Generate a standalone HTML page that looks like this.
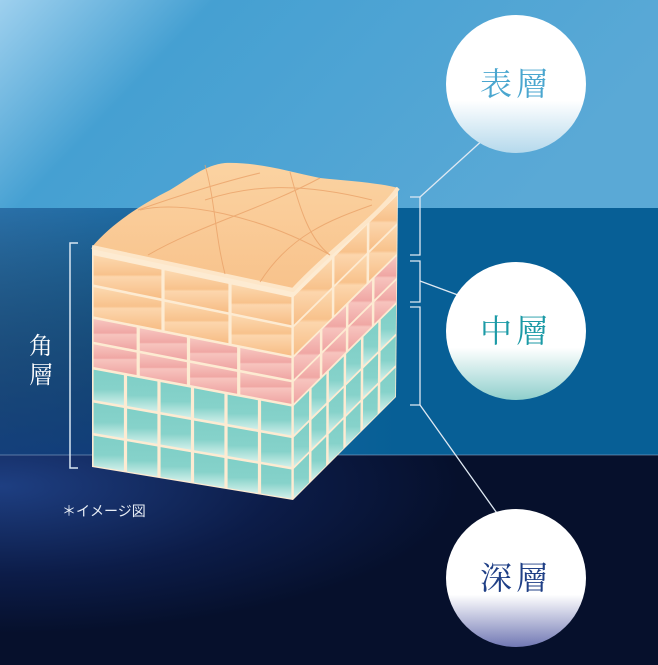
<!DOCTYPE html>
<html><head><meta charset="utf-8"><style>
html,body{margin:0;padding:0;width:658px;height:665px;overflow:hidden;background:#0b1a3e}
svg{display:block}
.t{font-family:"Liberation Serif","Noto Serif CJK SC",serif}
</style></head><body>
<svg id="s" width="658" height="665" viewBox="0 0 658 665" xmlns="http://www.w3.org/2000/svg">
<defs>
<linearGradient id="bg1" x1="0" y1="0" x2="1" y2="0.3"><stop offset="0" stop-color="#9ed0ee"/><stop offset="0.3" stop-color="#45a0d2"/><stop offset="1" stop-color="#5aa9d6"/></linearGradient>
<linearGradient id="bg2" x1="0" y1="0" x2="0.6" y2="0"><stop offset="0" stop-color="#2a70a8"/><stop offset="1" stop-color="#075f96"/></linearGradient>
<linearGradient id="bg2v" x1="0" y1="0" x2="0" y2="1"><stop offset="0" stop-color="#000" stop-opacity="0"/><stop offset="1" stop-color="#0a2a68" stop-opacity="0.7"/></linearGradient>
<radialGradient id="bg3" cx="0" cy="0.15" r="0.7"><stop offset="0" stop-color="#1e3f82"/><stop offset="0.6" stop-color="#0c1c48"/><stop offset="1" stop-color="#06102c"/></radialGradient>
<linearGradient id="c1" x1="0" y1="0" x2="0" y2="1"><stop offset="0.62" stop-color="#fff"/><stop offset="1" stop-color="#b5d9ec"/></linearGradient>
<linearGradient id="c2" x1="0" y1="0" x2="0" y2="1"><stop offset="0.62" stop-color="#fff"/><stop offset="1" stop-color="#8fcfcc"/></linearGradient>
<linearGradient id="c3" x1="0" y1="0" x2="0" y2="1"><stop offset="0.62" stop-color="#fff"/><stop offset="1" stop-color="#7178b4"/></linearGradient>
<linearGradient id="go" x1="0" y1="0" x2="0" y2="1"><stop offset="0" stop-color="#fcd9b0"/><stop offset="0.45" stop-color="#f8c28c"/><stop offset="0.5" stop-color="#fcd6ad"/><stop offset="1" stop-color="#f7bd85"/></linearGradient>
<linearGradient id="gp" x1="0" y1="0" x2="0" y2="1"><stop offset="0" stop-color="#f7c6c0"/><stop offset="0.45" stop-color="#f0a7a4"/><stop offset="0.5" stop-color="#f7c4be"/><stop offset="1" stop-color="#efa4a2"/></linearGradient>
<linearGradient id="gt" x1="0" y1="0" x2="0" y2="1"><stop offset="0" stop-color="#7fcfc7"/><stop offset="0.55" stop-color="#86d2ca"/><stop offset="1" stop-color="#d2f0ea"/></linearGradient>
<linearGradient id="gtop" x1="0" y1="0" x2="0" y2="1"><stop offset="0" stop-color="#fbd3a2"/><stop offset="1" stop-color="#f8c28b"/></linearGradient>
</defs>
<rect x="0" y="0" width="658" height="208" fill="url(#bg1)"/>
<rect x="0" y="208" width="658" height="247" fill="url(#bg2)"/>
<rect x="0" y="208" width="300" height="247" fill="url(#bg2v)"/>
<rect x="0" y="455" width="658" height="210" fill="url(#bg3)"/>
<line x1="0" y1="455" x2="658" y2="455" stroke="#8aa6c8" stroke-width="1" opacity="0.6"/>

<g id="cube"></g>

<path d="M78,243 H70 V468 H78" fill="none" stroke="#d8e6f2" stroke-width="1.5"/>
<text class="t" x="41" y="354" font-size="24" fill="#fff" text-anchor="middle">角</text>
<text class="t" x="41" y="383" font-size="24" fill="#fff" text-anchor="middle">層</text>
<text x="62" y="516" font-size="14" fill="#e8eef6" style='font-family:"Liberation Sans","Noto Sans CJK JP",sans-serif'>＊イメージ図</text>

<g stroke="#dfe9f3" stroke-width="1.3" fill="none">
<path d="M410,197 H420 V255 H410"/>
<path d="M410,261 H420 V302 H410"/>
<path d="M410,307 H420 V405 H410"/>
<line x1="420" y1="197" x2="485" y2="138"/>
<line x1="420" y1="281" x2="466" y2="298"/>
<line x1="420" y1="405" x2="499" y2="516"/>
</g>
<ellipse cx="516" cy="84" rx="70" ry="69" fill="url(#c1)"/>
<ellipse cx="516" cy="331" rx="70" ry="69" fill="url(#c2)"/>
<ellipse cx="516" cy="578" rx="70" ry="69" fill="url(#c3)"/>
<text class="t" x="516" y="95" font-size="32" fill="#4aa6cf" text-anchor="middle" letter-spacing="4">表層</text>
<text class="t" x="516" y="342" font-size="32" fill="#1b9aa6" text-anchor="middle" letter-spacing="4">中層</text>
<text class="t" x="516" y="589" font-size="32" fill="#1f3f86" text-anchor="middle" letter-spacing="4">深層</text>
</svg>
<script>
(function(){
var g=document.getElementById('cube'),h='';
function bl(F,u,v){var x=F[0][0]*(1-u)*(1-v)+F[1][0]*u*(1-v)+F[2][0]*u*v+F[3][0]*(1-u)*v;
var y=F[0][1]*(1-u)*(1-v)+F[1][1]*u*(1-v)+F[2][1]*u*v+F[3][1]*(1-u)*v;return x.toFixed(1)+','+y.toFixed(1);}
function quad(F,u0,u1,v0,v1,fill){h+='<polygon points="'+bl(F,u0,v0)+' '+bl(F,u1,v0)+' '+bl(F,u1,v1)+' '+bl(F,u0,v1)+'" fill="'+fill+'"/>';}
var front=[[92,247],[293,290],[293,500],[92,467]];
var right=[[293,290],[398,187],[396,397],[293,500]];
var layers=[[0.03,0.32,2,'url(#go)'],[0.32,0.55,2,'url(#gp)'],[0.55,1,3,'url(#gt)']];
function face(F,cols,offs,gu,gv){
 h+='<polygon points="'+bl(F,0,0)+' '+bl(F,1,0)+' '+bl(F,1,1)+' '+bl(F,0,1)+'" fill="#fdebd2"/>';
 layers.forEach(function(L,li){var n=L[2],rh=(L[1]-L[0])/n;
  for(var r=0;r<n;r++){var v0=L[0]+r*rh+gv,v1=L[0]+(r+1)*rh-gv;
   var c=cols[li],o=offs[li],edges=[0];
   for(var k=1;k<c;k++)edges.push(k/c+o);edges.push(1);
   for(var k=0;k<edges.length-1;k++){var a=edges[k]+(k?gu:0.008),b=edges[k+1]-(k<edges.length-2?gu:0.008);if(b>a)quad(F,a,b,v0,v1,L[3]);}
  }});
}
face(front,[3,4,6],[0.02,-0.02,0],0.008,0.006);
face(right,[3,4,6],[0.05,0.02,0],0.012,0.006);
h+='<path d="M92,247 C110,225 140,205 170,190 C190,178 205,165 225,163 C260,162 290,172 320,178 C350,181 380,183 398,188 C380,215 330,250 293,290 L92,247 Z" fill="url(#gtop)"/>';
h+='<path d="M92,247 L293,290 C330,250 380,215 398,188" fill="none" stroke="#fde6c8" stroke-width="4" stroke-linejoin="round"/>';
h+='<g fill="none" stroke="#eaa36a" stroke-width="1" opacity="0.8">'+
'<path d="M138,210 C180,195 230,180 260,173"/>'+
'<path d="M148,255 C200,225 260,210 320,178"/>'+
'<path d="M205,165 C215,200 215,235 225,274"/>'+
'<path d="M290,172 C300,210 310,240 330,255"/>'+
'<path d="M140,210 C180,200 260,215 330,255"/>'+
'<path d="M205,200 C250,185 300,182 372,200"/>'+
'<path d="M260,282 C290,235 330,220 372,205"/>'+
'</g>';
g.innerHTML=h;
})();
</script>
</body></html>
